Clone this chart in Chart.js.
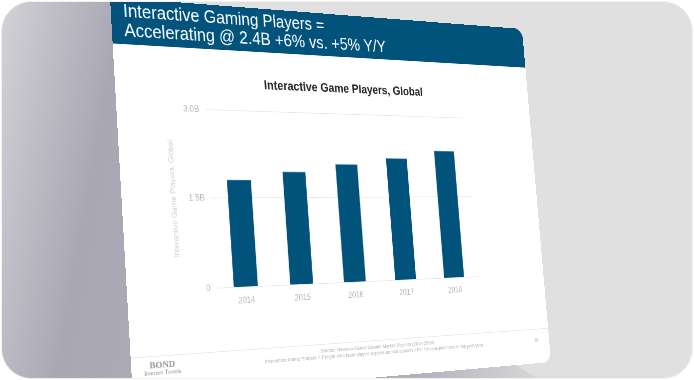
<!DOCTYPE html>
<html><head><meta charset="utf-8">
<script src="https://cdn.jsdelivr.net/npm/chart.js@4/dist/chart.umd.min.js"></script>
<style>
html,body{margin:0;padding:0;background:#fff;width:694px;height:380px;overflow:hidden;font-family:"Liberation Sans",Arial,sans-serif;}
#card{position:absolute;left:1px;top:1px;width:690px;height:376px;border-radius:30px;background:#e0e0e0;overflow:hidden;border:1px solid #f2f2f2;}
#shade{position:absolute;left:0;top:0;width:690px;height:376px;
 background:linear-gradient(100deg,#d2d2d6 0%,#bdbcc4 8%,#a9a7b4 16%,#b4b3bc 60%,#e0e0e0 80%);
 clip-path:polygon(0 0,110px 0,132px 376px,0 376px);}
#shade2{position:absolute;left:0;top:0;width:690px;height:376px;
 background:linear-gradient(90deg,#a9a7b4 0%,#b2b1ba 60%,#e0e0e0 82%);
 clip-path:polygon(120px 376px,120px 350px,500px 355px,535px 376px);}
#slide{position:absolute;left:0;top:0;width:720px;height:540px;background:#fff;transform-origin:0 0;border-radius:0 16px 16px 0;overflow:hidden;}
#hdr{position:absolute;left:0;top:0;width:720px;height:64px;background:#01537c;color:#fff;font-size:25px;line-height:27px;padding:4px 0 0 18px;box-sizing:border-box;}
#ctitle{position:absolute;left:170px;top:102px;width:400px;text-align:center;font-size:18px;font-weight:bold;color:#222;line-height:20px;}
#chartbox{position:absolute;left:62px;top:133px;width:545px;height:301px;}
#fline{position:absolute;left:0;top:486px;width:720px;height:1px;background:#e6e6e6;}
#src{position:absolute;left:160px;top:491px;width:470px;text-align:center;font-size:7.5px;line-height:9px;color:#b0b0b0;}
#bond{position:absolute;left:0px;top:492px;width:90px;text-align:center;font-family:"Liberation Serif",serif;color:#999;line-height:11px;}
#pg{position:absolute;right:22px;top:500px;font-size:7px;color:#aaa;}
</style></head>
<body>
<div id="card">
 <div id="shade"></div>
 <div id="shade2"></div>
 <div id="slide">
  <div id="hdr">Interactive Gaming Players =<br>Accelerating @ 2.4B +6% vs. +5% Y/Y</div>
  <div id="ctitle">Interactive Game Players, Global</div>
  <div id="chartbox"><canvas id="c" width="545" height="301"></canvas></div>
  <div id="fline"></div>
  <div id="src">Source: Newzoo Global Games Market Reports (2014-2018).<br>Interactive Game Players = People who have played a game across console / PC / mobile platforms in the past year.</div>
  <div id="bond"><div style="font-size:13px;font-weight:bold">BOND</div><div style="font-size:9px">Internet Trends</div><div style="font-size:8px">2019</div></div>
  <div id="pg">55</div>
 </div>
</div>
<script>
const years = ["2014","2015","2016","2017","2018"];
const players = [1.81, 1.95, 2.09, 2.21, 2.36];
const yTickValues = [0, 1.5, 3.0];
const yTickLabels = ["0", "1.5B", "3.0B"];

function solve(A,b){const n=b.length;for(let i=0;i<n;i++){let m=i;for(let r=i+1;r<n;r++)if(Math.abs(A[r][i])>Math.abs(A[m][i]))m=r;[A[i],A[m]]=[A[m],A[i]];[b[i],b[m]]=[b[m],b[i]];for(let r=i+1;r<n;r++){const f=A[r][i]/A[i][i];for(let c=i;c<n;c++)A[r][c]-=f*A[i][c];b[r]-=f*b[i];}}const x=new Array(n);for(let i=n-1;i>=0;i--){let s=b[i];for(let c=i+1;c<n;c++)s-=A[i][c]*x[c];x[i]=s/A[i][i];}return x;}
function homog(w,h,d){const s=[[0,0],[w,0],[w,h],[0,h]];const A=[],b=[];for(let i=0;i<4;i++){const[x,y]=s[i],[u,v]=d[i];A.push([x,y,1,0,0,0,-x*u,-y*u]);b.push(u);A.push([0,0,0,x,y,1,-x*v,-y*v]);b.push(v);}const[a,bb,c,dd,e,f,g,hh]=solve(A,b);return `matrix3d(${a},${dd},0,${g},${bb},${e},0,${hh},0,0,1,0,${c},${f},0,1)`;}
document.getElementById('slide').style.transform=homog(720,540,[[108,-5],[520,27],[549,360],[131,397]]);

new Chart(document.getElementById('c'),{
 type:'bar',
 data:{labels:years,datasets:[{data:players,backgroundColor:'#01537c',borderWidth:0,categoryPercentage:1,barPercentage:0.42}]},
 options:{responsive:false,animation:false,
  layout:{padding:{left:4,right:20,top:4,bottom:4}},
  plugins:{legend:{display:false},tooltip:{enabled:false},title:{display:false}},
  scales:{
   x:{grid:{display:false},border:{display:false},ticks:{color:'#b5b5b5',font:{family:'Liberation Sans',size:12},padding:4}},
   y:{min:0,max:3,afterBuildTicks:ax=>{ax.ticks=yTickValues.map(v=>({value:v}));},
      grid:{color:'#e6e6e6',drawTicks:false},border:{display:false},
      ticks:{color:'#b5b5b5',font:{family:'Liberation Sans',size:12},padding:10,callback:(v)=>{const i=yTickValues.indexOf(v);return i>=0?yTickLabels[i]:'';}},
      title:{display:true,text:'Interactive Game Players, Global',color:'#d2d2d2',font:{family:'Liberation Sans',size:11},padding:{bottom:6}}}
  }}
});
</script>
</body></html>
